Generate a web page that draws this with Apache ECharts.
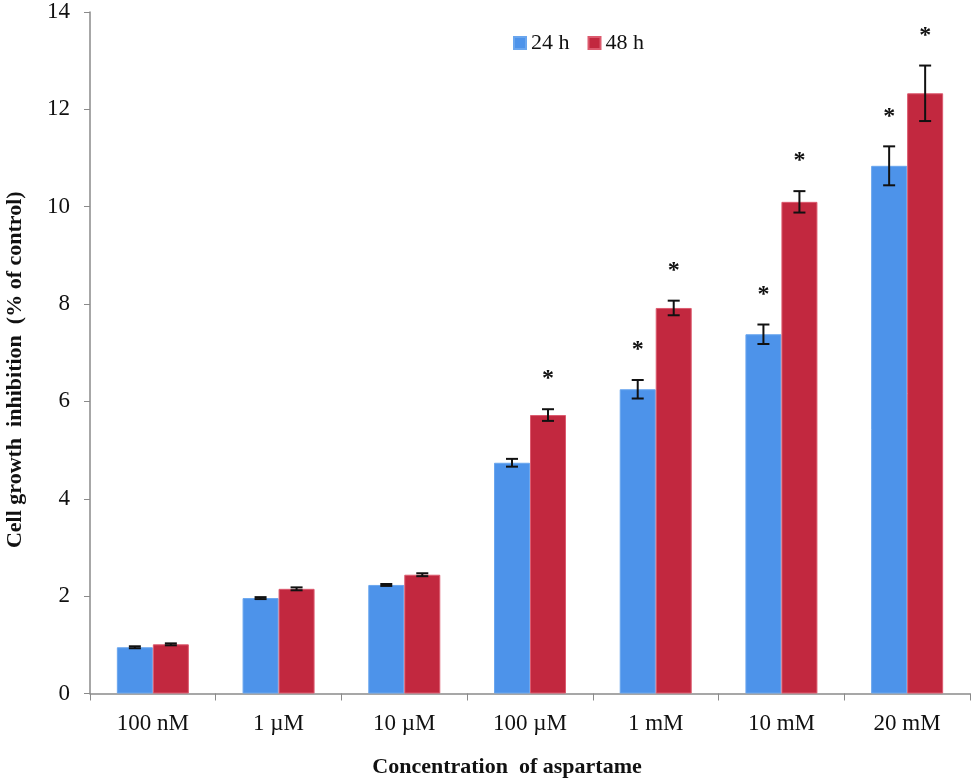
<!DOCTYPE html>
<html>
<head>
<meta charset="utf-8">
<script src="https://cdn.jsdelivr.net/npm/echarts@6/dist/echarts.min.js"></script>
<style>html,body{margin:0;padding:0;background:#fff}#c{width:973px;height:783px}</style>
</head>
<body>
<div id="c"></div>
<script>
var categories = ['100 nM', '1 \u00b5M', '10 \u00b5M', '100 \u00b5M', '1 mM', '10 mM', '20 mM'];
var seriesNames = ['24 h', '48 h'];
var values24 = [0.95, 1.96, 2.23, 4.74, 6.25, 7.38, 10.84];
var errors24 = [0.02, 0.02, 0.02, 0.08, 0.19, 0.2, 0.4];
var sig24 = [0, 0, 0, 0, 1, 1, 1];
var values48 = [1.01, 2.15, 2.44, 5.72, 7.92, 10.1, 12.33];
var errors48 = [0.02, 0.03, 0.03, 0.12, 0.15, 0.22, 0.57];
var sig48 = [0, 0, 0, 1, 1, 1, 1];
var yTicks = [0, 2, 4, 6, 8, 10, 12, 14];

var BAR_W = 36;
var FONT = '"Liberation Serif", "DejaVu Serif", serif';

function errData(vals, errs, sig) {
  return vals.map(function (v, i) { return [i, v, errs[i], sig[i]]; });
}

function errRender(side) {
  return function (params, api) {
    var i = api.value(0), v = api.value(1), e = api.value(2), s = api.value(3);
    var c = api.coord([i, v]);
    var x = c[0] + side * BAR_W / 2;
    var top = api.coord([i, v + e])[1];
    var bot = api.coord([i, v - e])[1];
    var cap = 6;
    var st = { stroke: '#111', lineWidth: 2 };
    var children = [
      { type: 'line', shape: { x1: x, y1: top, x2: x, y2: bot }, style: st },
      { type: 'line', shape: { x1: x - cap, y1: top, x2: x + cap, y2: top }, style: st },
      { type: 'line', shape: { x1: x - cap, y1: bot, x2: x + cap, y2: bot }, style: st }
    ];
    if (s) {
      children.push({
        type: 'text',
        style: { x: x, y: top - 30, text: '*', fill: '#111', font: 'bold 24px ' + FONT, textAlign: 'center', textVerticalAlign: 'middle' }
      });
    }
    return { type: 'group', children: children };
  };
}

var chart = echarts.init(document.getElementById('c'));
chart.setOption({
  animation: false,
  backgroundColor: '#fff',
  grid: { left: 90, right: 3, top: 12, bottom: 89.5, containLabel: false, outerBoundsMode: 'none' },
  legend: {
    data: seriesNames,
    left: 508, top: 27,
    itemWidth: 12, itemHeight: 12, itemGap: 18,
    icon: 'rect',
    textStyle: { fontFamily: FONT, fontSize: 22, color: '#111' }
  },
  xAxis: {
    type: 'category',
    data: categories,
    name: 'Concentration  of aspartame',
    nameLocation: 'middle',
    nameGap: 63,
    nameTextStyle: { fontFamily: FONT, fontSize: 22, fontWeight: 'bold', color: '#111', padding: [0, 46, 0, 0] },
    axisLine: { lineStyle: { color: '#8a8a8a', width: 1.5 } },
    axisTick: { show: true, length: 7, interval: 0, lineStyle: { color: '#8a8a8a' } },
    axisLabel: { fontFamily: FONT, fontSize: 23, color: '#111', margin: 19, interval: 0 }
  },
  yAxis: {
    type: 'value',
    min: yTicks[0], max: yTicks[yTicks.length - 1], interval: 2,
    name: 'Cell growth  inhibition  (% of control)',
    nameLocation: 'middle',
    nameGap: 64,
    nameTextStyle: { fontFamily: FONT, fontSize: 22, fontWeight: 'bold', color: '#111', padding: [0, 34, 0, 0] },
    axisLine: { show: true, lineStyle: { color: '#8a8a8a', width: 1.5 } },
    axisTick: { show: true, length: 6, lineStyle: { color: '#8a8a8a' } },
    splitLine: { show: false },
    axisLabel: { fontFamily: FONT, fontSize: 23, color: '#111', margin: 20 }
  },
  series: [
    {
      name: seriesNames[0], type: 'bar', data: values24,
      barWidth: BAR_W, barGap: '0%',
      itemStyle: { color: '#4d93ea', borderColor: '#6aa6ee', borderWidth: 1 }
    },
    {
      name: seriesNames[1], type: 'bar', data: values48,
      barWidth: BAR_W, barGap: '0%',
      itemStyle: { color: '#c2283f', borderColor: '#dc5a6e', borderWidth: 1 }
    },
    {
      type: 'custom', name: 'err24', data: errData(values24, errors24, sig24),
      renderItem: errRender(-1), encode: { x: 0, y: 1 }, z: 10
    },
    {
      type: 'custom', name: 'err48', data: errData(values48, errors48, sig48),
      renderItem: errRender(1), encode: { x: 0, y: 1 }, z: 10
    }
  ]
});
</script>
</body>
</html>
